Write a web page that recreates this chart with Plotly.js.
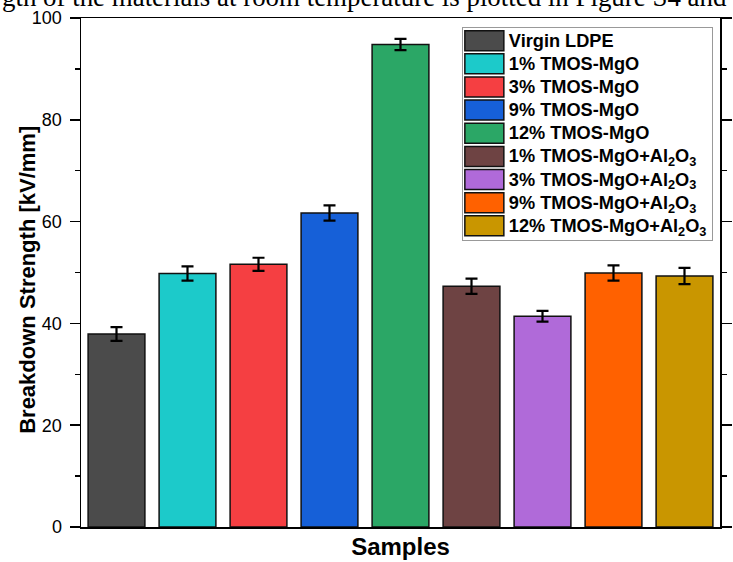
<!DOCTYPE html>
<html>
<head>
<meta charset="utf-8">
<script src="https://cdn.plot.ly/plotly-3.0.1.min.js"></script>
<style>html,body{margin:0;padding:0;background:#fff;}#chart{width:733px;height:562px;}</style>
</head>
<body>
<div id="chart"></div>
<script>
const categories = ["Virgin LDPE", "1% TMOS-MgO", "3% TMOS-MgO", "9% TMOS-MgO", "12% TMOS-MgO",
  "1% TMOS-MgO+Al<sub>2</sub>O<sub>3</sub>", "3% TMOS-MgO+Al<sub>2</sub>O<sub>3</sub>",
  "9% TMOS-MgO+Al<sub>2</sub>O<sub>3</sub>", "12% TMOS-MgO+Al<sub>2</sub>O<sub>3</sub>"];
const strength = [37.9, 49.8, 51.6, 61.7, 94.8, 47.3, 41.4, 49.9, 49.3];
const errors = [1.35, 1.4, 1.3, 1.5, 1.1, 1.5, 1.05, 1.5, 1.6];
const colors = ["#4b4b4b", "#1ccaca", "#f53f42", "#1660d8", "#2ba766", "#6e4343", "#b06ad9", "#ff6100", "#c99600"];
const yTicks = [0, 20, 40, 60, 80, 100];
const headerText = "gth of the materials at room temperature is plotted in Figure S4 and";
const yTitle = "<b>Breakdown Strength [kV/mm]</b>";

const traces = categories.map((c, i) => ({
  type: "bar",
  x: [i],
  y: [strength[i]],
  name: c,
  width: 0.8,
  marker: {color: colors[i], line: {color: "#111", width: 1.5}},
  error_y: {type: "data", array: [errors[i]], visible: true, color: "#000", thickness: 2.2, width: 6},
  showlegend: true
}));

const layout = {
  width: 733, height: 562,
  margin: {l: 81, r: 13, t: 18, b: 35},
  paper_bgcolor: "#fff", plot_bgcolor: "#fff",
  barmode: "overlay",
  font: {family: "Liberation Sans, Arial, sans-serif", color: "#000"},
  xaxis: {
    range: [-0.5, 8.5], showticklabels: false, ticks: "", showgrid: false, zeroline: false,
    showline: true, linecolor: "#000", linewidth: 1.5, mirror: true,
    title: {text: "<b>Samples</b>", font: {size: 24, family: "Liberation Sans, Arial, sans-serif"}, standoff: 10}
  },
  yaxis: {
    range: [0, 100], tickvals: yTicks, ticktext: yTicks.map(String),
    ticks: "outside", ticklen: 10, tickwidth: 1.5, tickcolor: "#000",
    minor: {dtick: 10, tick0: 0, ticks: "outside", ticklen: 5, tickwidth: 1.5, tickcolor: "#000"},
    showgrid: false, zeroline: false,
    showline: true, linecolor: "#000", linewidth: 1.5, mirror: "ticks",
    tickfont: {size: 18, family: "Liberation Sans, Arial, sans-serif"},
    ticklabelstandoff: 4
  },
  legend: {
    x: 0.596, y: 0.990, xanchor: "left", yanchor: "top",
    bgcolor: "#fff", bordercolor: "#999", borderwidth: 1,
    font: {size: 15.5, family: "Liberation Sans, Arial, sans-serif", weight: "bold"},
    itemwidth: 36, tracegroupgap: 0
  },
  annotations: [{
    text: headerText, xref: "paper", yref: "paper", x: -0.127, y: 1.041, xanchor: "left", yanchor: "middle",
    showarrow: false, font: {family: "Liberation Serif, Times New Roman, serif", size: 26.9, color: "#000"}
  }, {
    text: yTitle, xref: "paper", yref: "paper", x: -0.085, y: 0.485, xanchor: "center", yanchor: "middle",
    textangle: -90, showarrow: false, font: {family: "Liberation Sans, Arial, sans-serif", size: 22, color: "#000"}
  }]
};

Plotly.newPlot("chart", traces, layout, {displayModeBar: false, staticPlot: true}).then(() => {
  const legend = document.querySelector("#chart .legend");
  legend.querySelectorAll(".legendpoints path").forEach(p => {
    p.setAttribute("d", "M18,10H-21V-10H18Z");
  });
  let maxRight = 0;
  legend.querySelectorAll("text.legendtext").forEach(t => {
    t.style.fontSize = "18.2px";
    maxRight = Math.max(maxRight, t.getBoundingClientRect().right);
  });
  const bg = legend.querySelector("rect.bg");
  if (bg) {
    const left = bg.getBoundingClientRect().left;
    const w = Math.round(maxRight + 6 - left);
    bg.setAttribute("width", w);
    bg.setAttribute("y", 4);
    bg.setAttribute("height", 213);
    document.querySelectorAll("#chart clipPath").forEach(cp => {
      if (cp.id && cp.id.indexOf("legend") === 0) {
        cp.querySelectorAll("rect").forEach(r => r.setAttribute("width", w + 10));
      }
    });
  }
});
</script>
</body>
</html>
